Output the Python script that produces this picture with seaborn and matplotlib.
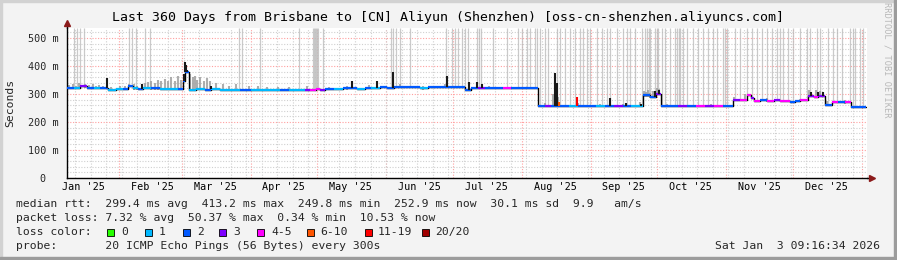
import numpy as np
import pandas as pd
import matplotlib
matplotlib.use("Agg")
import matplotlib.pyplot as plt
import matplotlib.dates as mdates
from matplotlib.patches import Rectangle
from matplotlib.ticker import MultipleLocator, FixedLocator
import seaborn as sns

# ---------------- data ----------------
TITLE = "Last 360 Days from Brisbane to [CN] Aliyun (Shenzhen) [oss-cn-shenzhen.aliyuncs.com]"
END = pd.Timestamp("2026-01-03 09:16:34")
SPAN_DAYS = 360
Y_TOP_MS = 535.7

# median rtt (ms) as step breakpoints, days since start of window, loss-colour index
med_day = [0, 3, 6, 9, 12, 15, 18.5, 22, 25, 27.5, 29.5, 32, 34, 38, 42, 46, 50, 52.2, 53, 55,
           58, 62, 65, 69, 73, 78, 83, 87, 92, 96, 100, 104, 107, 109.5, 112, 114, 116, 120, 124,
           127.4, 130.5, 134, 137, 141, 144, 147.2, 151, 155, 159, 162.5, 166, 171.5, 175, 179,
           181.8, 185, 188, 192, 196, 200, 204, 208, 212, 215, 218, 222, 226, 230, 234, 238, 242,
           246, 250, 254, 259.2, 262.4, 265.1, 267.3, 271, 275, 279, 283, 287, 291, 295, 299.7,
           303, 306, 307.8, 309.2, 312, 315, 318, 321, 325.4, 327.6, 330, 333.5, 336, 338, 341,
           344.3, 347, 350, 352.8, 356, 359.6]
med_ms = [321, 322, 327, 322, 321, 322, 313, 318, 317, 328, 320, 319, 322, 320, 318, 319, 318, 345, 380, 316,
          317, 316, 318, 316, 315, 316, 315, 316, 314, 315, 314, 315, 316, 316, 317, 314, 318, 317, 320,
          322, 319, 322, 321, 324, 323, 326, 326, 324, 320, 325, 326, 325, 326, 315,
          323, 323, 323, 322, 323, 322, 321, 322, 257, 256, 257, 257, 256, 257, 256, 257, 256,
          258, 257, 256, 295, 290, 300, 257, 256, 257, 256, 258, 257, 256, 257, 278,
          280, 296, 286, 276, 277, 275, 277, 276, 271, 276, 277, 292, 290, 293, 262,
          270, 271, 270, 252, 252, 252]
med_loss = [2, 1, 3, 2, 1, 2, 1, 1, 2, 2, 1, 2, 1, 2, 1, 1, 2, 2, 2, 1,
            1, 2, 1, 1, 1, 2, 1, 1, 1, 2, 1, 1, 3, 4, 4, 3, 2, 1, 2,
            2, 1, 2, 1, 2, 2, 2, 2, 2, 1, 2, 2, 2, 2, 2,
            2, 3, 2, 2, 4, 2, 2, 2, 2, 3, 2, 2, 1, 2, 2, 1, 2,
            3, 2, 1, 2, 2, 3, 2, 2, 3, 2, 4, 3, 4, 2, 3,
            4, 4, 3, 4, 2, 4, 3, 4, 2, 2, 4, 3, 4, 3, 2,
            4, 2, 4, 2, 2, 2]

# short black spikes of the median (day, top ms)
spike_day = [17.8, 33.7, 52.5, 53.0, 53.5, 54.2, 65.0, 128.4, 139.5, 146.6, 171.0, 181.0, 184.5,
             186.6, 219.6, 220.5, 221.6, 229.4, 244.2, 251.5, 258.5, 264.5, 266.3, 335.0, 338.0, 340.0]
spike_ms = [356, 336, 372, 413, 405, 385, 330, 347, 348, 380, 364, 343, 342,
            336, 375, 340, 273, 290, 285, 268, 263, 312, 314, 306, 306, 306]
spike_loss = [7, 7, 7, 7, 7, 7, 7, 7, 7, 7, 7, 7, 7,
              7, 7, 7, 5, 6, 7, 7, 7, 7, 7, 7, 7, 7]

# smoke (spread of the pings above the median): day, top ms
smoke_day = [1, 2.5, 4, 5.5, 8, 10, 11.5, 13, 14.5, 16, 20, 24, 26, 28, 30, 31.5, 35, 36.5, 38, 39.5,
             41, 42.5, 44, 45.5, 47, 48.5, 50, 51.5, 55.5, 56.5, 57.5, 58.5, 60, 61.5, 63, 64.5, 67,
             70, 73, 76, 82, 86, 90, 95, 100, 108, 118, 126, 136, 150, 160, 170, 176, 190, 215,
             218.5, 221, 230, 240, 250, 258, 259.5, 260.5, 261.5, 262.5, 263.5, 265.5, 266.5, 270,
             290, 300, 305, 315, 330, 334, 337, 339, 342, 350]
smoke_ms = [332, 335, 330, 338, 334, 331, 336, 330, 333, 329, 326, 328, 330, 336, 334, 330, 338, 342, 346, 340,
            350, 345, 352, 348, 360, 346, 365, 350, 372, 360, 366, 350, 362, 348, 356, 345, 340,
            334, 330, 336, 327, 330, 324, 326, 324, 328, 326, 330, 332, 334, 330, 334, 330, 330, 268,
            300, 290, 268, 265, 266, 270, 312, 306, 316, 305, 310, 320, 318, 266,
            266, 288, 300, 284, 282, 314, 316, 312, 275, 280]

# pings far off the scale (full-height light grey lines): day
outlier_day = [3.2, 4.5, 5.9, 7.7, 27.9, 29.3, 31.1, 35.1, 37.4, 77.4, 78.8, 86.9, 104.4,
               110.7, 111.2, 111.6, 112.1, 112.5, 113.0, 115.2, 145.8, 146.7, 148.1, 149.9,
               154.4, 170.6, 173.3, 174.6, 176.0, 177.8, 179.1, 180.5, 184.5, 185.4, 186.3,
               191.7, 198.0, 203.0, 204.8, 207.0, 208.4, 210.6, 211.5, 212.9, 215.1, 216.5,
               220.5, 221.9, 224.1, 226.4, 228.6, 230.9, 232.2, 234.0, 235.4, 238.5, 240.8,
               243.0, 244.4, 247.5, 250.2, 252.0, 253.4, 255.6, 258.8, 260.1, 261.0, 261.9,
               262.4, 264.6, 265.5, 265.9, 267.8, 269.1, 271.4, 273.6, 274.5, 275.4, 275.9,
               277.2, 279.0, 281.7, 284.0, 286.2, 288.5, 290.7, 292.5, 295.2, 296.1, 297.0,
               300.6, 302.9, 306.0, 308.3, 310.5, 312.8, 315.0, 317.3, 319.5, 320.9, 322.2,
               324.5, 326.7, 329.9, 333.0, 334.4, 337.5, 338.9, 342.5, 344.8, 346.6, 348.8,
               352.4, 353.7, 354.6, 356.9, 358.2]

loss_labels = ["0", "1", "2", "3", "4-5", "6-10", "11-19", "20/20"]
loss_colors = ["#26ff00", "#00b8ff", "#0059ff", "#7e00ff", "#ff00ff", "#ff5500", "#ff0000", "#a10000"]
spike_palette = {5: "#ff5500", 6: "#ff0000", 7: "#1a1a1a"}

y_ticks = [0, 100, 200, 300, 400, 500]
y_tick_labels = ["0  ", "100 m", "200 m", "300 m", "400 m", "500 m"]

stat_median = "median rtt:  299.4 ms avg  413.2 ms max  249.8 ms min  252.9 ms now  30.1 ms sd  9.9   am/s"
stat_loss = "packet loss: 7.32 % avg  50.37 % max  0.34 % min  10.53 % now"
probe_text = "probe:       20 ICMP Echo Pings (56 Bytes) every 300s"
stamp_text = "Sat Jan  3 09:16:34 2026"

# ---------------- helpers ----------------
START = END - pd.Timedelta(days=SPAN_DAYS)


def to_dt(days):
    return START + pd.to_timedelta(np.asarray(days, dtype=float), unit="D")


med_day_a = np.asarray(med_day, float)
med_ms_a = np.asarray(med_ms, float)


def median_at(days):
    idx = np.searchsorted(med_day_a, np.asarray(days, float), side="right") - 1
    idx = np.clip(idx, 0, len(med_ms_a) - 1)
    return med_ms_a[idx]


# ---------------- figure ----------------
sns.set_style("white")
plt.rcParams["font.family"] = ["DejaVu Sans Mono"]
W, H = 897, 260
fig = plt.figure(figsize=(W / 100, H / 100), dpi=100, facecolor="#f3f3f3")
FS = 8.2


def px(x, y):
    return x / W, 1 - y / H


ax = fig.add_axes([67 / W, 1 - 178 / H, 800 / W, 150 / H])
ax.set_facecolor("white")

red_grid = "#ff9f9f"
gray_grid = "#d0d0d0"
dots = (0, (1, 1.5))

# grid
ax.set_xlim(START, END)
ax.set_ylim(0, Y_TOP_MS)
ax.xaxis.set_minor_locator(mdates.WeekdayLocator(byweekday=mdates.SU))
ax.xaxis.set_major_locator(mdates.MonthLocator(bymonthday=16))
ax.xaxis.set_major_formatter(mdates.DateFormatter("%b '%y"))
ax.yaxis.set_major_locator(FixedLocator(y_ticks))
ax.set_yticklabels(y_tick_labels)
ax.yaxis.set_minor_locator(MultipleLocator(20))
ax.grid(False)
ax.grid(which="minor", axis="both", color=gray_grid, ls=dots, lw=0.8, zorder=0)
ax.grid(which="major", axis="y", color=red_grid, ls=dots, lw=0.8, zorder=0)
for m in mdates.MonthLocator(bymonthday=1).tick_values(START.to_pydatetime(), END.to_pydatetime()):
    ax.axvline(m, color=red_grid, ls=dots, lw=0.8, zorder=0.5)
ax.set_axisbelow(True)

# outliers: full height light grey lines
od = np.asarray(outlier_day)
ax.vlines(to_dt(od), median_at(od), Y_TOP_MS, color="#bdbdbd", lw=0.9, alpha=0.8, zorder=1)

# smoke
sd = np.asarray(smoke_day)
ax.vlines(to_dt(sd), median_at(sd) - 4, smoke_ms, color="#a0a0a0", lw=1.5, alpha=0.85, zorder=2)

# median line: black steps, then loss coloured horizontal segments
med_df = pd.DataFrame({"t": to_dt(med_day), "ms": med_ms})
sns.lineplot(data=med_df, x="t", y="ms", drawstyle="steps-post", color="black", lw=1.0,
             estimator=None, sort=False, ax=ax, zorder=3)
t_all = to_dt(med_day)
for i in range(len(med_day) - 1):
    ax.hlines(med_ms[i], t_all[i], t_all[i + 1], color=loss_colors[med_loss[i]], lw=1.6, zorder=4)

# spikes
sp = np.asarray(spike_day)
ax.vlines(to_dt(sp), median_at(sp), spike_ms,
          color=[spike_palette[c] for c in spike_loss], lw=1.5, zorder=5)

ax.set_xlabel("")
ax.set_ylabel("")

# axes / ticks
for s in ["top", "right"]:
    ax.spines[s].set_visible(False)
for s in ["left", "bottom"]:
    ax.spines[s].set_color("black")
    ax.spines[s].set_linewidth(1.0)
ax.tick_params(axis="x", which="both", length=0, pad=3, labelsize=7.3, colors="black")
ax.tick_params(axis="y", which="major", length=2, pad=4, labelsize=7.3, color=red_grid)
ax.tick_params(axis="y", which="minor", length=0)

ax.plot([0, 0], [1, 1.03], transform=ax.transAxes, color="black", lw=1.0, clip_on=False)
ax.plot([1, 1.006], [0, 0], transform=ax.transAxes, color="black", lw=1.0, clip_on=False)
ax.plot([0], [1.034], marker="^", ms=4.2, color="#8b1a1a", transform=ax.transAxes, clip_on=False)
ax.plot([1.006], [0], marker=">", ms=4.2, color="#8b1a1a", transform=ax.transAxes, clip_on=False)

# ---------------- texts ----------------
fig.text(*px(448, 18), TITLE, ha="center", va="center", fontsize=9.5, color="black")
fig.text(*px(10, 103), "Seconds", rotation=90, ha="center", va="center", fontsize=8.2)
fig.text(*px(887, 60), "RRDTOOL / TOBI OETIKER", rotation=270, ha="center", va="center",
         fontsize=6.2, color="#b8b8b8")

fig.text(*px(16, 204), stat_median, ha="left", va="center", fontsize=FS)
fig.text(*px(16, 218), stat_loss, ha="left", va="center", fontsize=FS)
fig.text(*px(16, 232), "loss color:", ha="left", va="center", fontsize=FS)
sq_x = [107.3, 145, 182.7, 219, 256.7, 306.7, 365, 421.7]
lab_x = [121.7, 159, 196.7, 233, 271.7, 320, 378, 435]
for i, (lab, col) in enumerate(zip(loss_labels, loss_colors)):
    x0, y0 = px(sq_x[i], 235.5)
    fig.patches.append(Rectangle((x0, y0), 7 / W, 7 / H, transform=fig.transFigure,
                                 facecolor=col, edgecolor="black", lw=0.6))
    fig.text(*px(lab_x[i], 232), lab, ha="left", va="center", fontsize=FS)
fig.text(*px(16, 246), probe_text, ha="left", va="center", fontsize=FS)
fig.text(*px(880, 246), stamp_text, ha="right", va="center", fontsize=FS)

# frame
fig.patches.append(Rectangle((0, 1 - 2 / H), 1, 2 / H, transform=fig.transFigure, color="#d2d2d2"))
fig.patches.append(Rectangle((0, 0), 2 / W, 1, transform=fig.transFigure, color="#d2d2d2"))
fig.patches.append(Rectangle((0, 0), 1, 3 / H, transform=fig.transFigure, color="#9c9c9c"))
fig.patches.append(Rectangle((1 - 3 / W, 0), 3 / W, 1, transform=fig.transFigure, color="#9c9c9c"))

fig.savefig("out.png", dpi=100, facecolor=fig.get_facecolor())
